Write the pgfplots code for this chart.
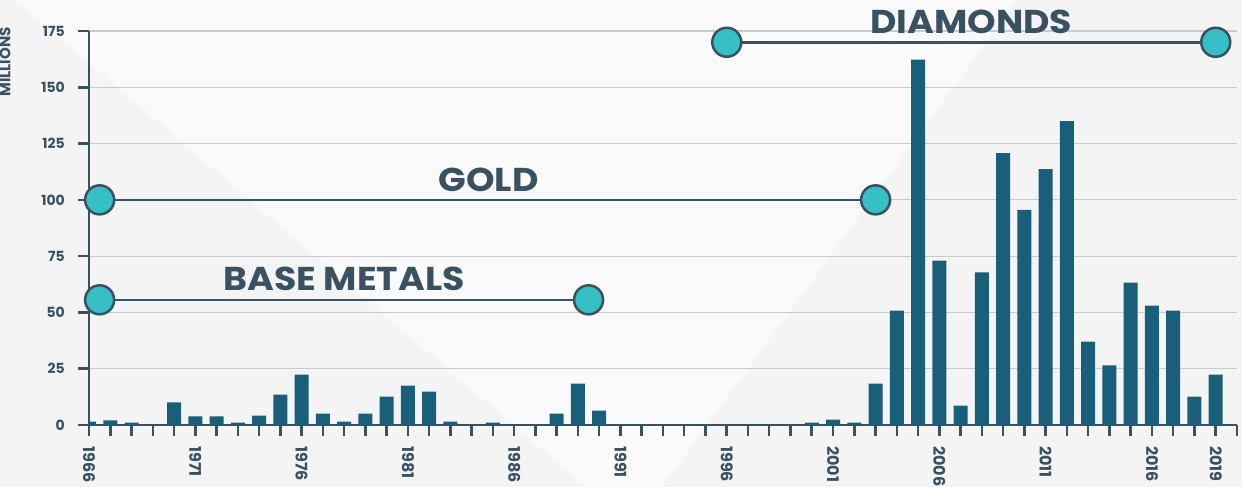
\documentclass[border=0pt]{standalone}
\usepackage{fontspec}
\setmainfont{Poppins}
\usepackage{pgfplots}
\pgfplotsset{compat=1.18}

\definecolor{barblue}{HTML}{1A5F79}
\definecolor{slate}{HTML}{3A5161}
\definecolor{dotfill}{HTML}{36BFC5}
\definecolor{gridgray}{HTML}{C9C9CE}
\definecolor{bggray}{HTML}{F4F4F5}
\definecolor{bglight}{HTML}{FAFAFA}

\newcommand{\bigtag}[1]{\scalebox{1.1}[1]{#1}}

\begin{document}
\begin{tikzpicture}
% background with a lighter diagonal band
\fill[bggray] (-89pt,-62pt) rectangle (1153pt,425pt);
\fill[bglight] (-74pt,425pt) -- (928pt,425pt) -- (573pt,-62pt) -- (497pt,-62pt) -- cycle;

\begin{axis}[
    at={(0pt,0pt)}, anchor=south west,
    scale only axis, width=1148pt, height=394pt,
    xmin=1966, xmax=2020,
    ymin=0, ymax=175,
    axis x line=bottom, axis y line=left,
    axis line style={slate, line width=2.5pt, -},
    clip mode=individual,
    tick align=outside,
    major tick length=11pt, minor tick length=11pt,
    every tick/.style={slate, line width=2.5pt},
    every minor tick/.style={slate, line width=2.5pt},
    xtick={1966,1971,...,2016,2019},
    minor xtick={1966,...,2020},
    ytick={0,25,...,175},
    ymajorgrids=true,
    grid style={gridgray, line width=1.2pt},
    /pgf/number format/assume math mode=true,
    /pgf/number format/1000 sep={},
    xticklabel style={rotate=-90, anchor=west, inner sep=0pt, text=slate,
        font=\fontsize{16}{16}\selectfont\bfseries, xshift=10pt},
    yticklabel style={anchor=east, inner sep=0pt, text=slate,
        font=\fontsize{14}{14}\selectfont\bfseries, xshift=-13pt},
]
\addplot[ybar, bar width=14pt, fill=barblue, draw=none] coordinates {
    (1966,1.5) (1967,2) (1968,1) (1970,10) (1971,3.8) (1972,3.8) (1973,1)
    (1974,4.2) (1975,13.5) (1976,22.4) (1977,5.1) (1978,1.5) (1979,5.1)
    (1980,12.6) (1981,17.5) (1982,14.8) (1983,1.5) (1985,1) (1988,5.1)
    (1989,18.4) (1990,6.4) (2000,1) (2001,2.4) (2002,1) (2003,18.4)
    (2004,50.8) (2005,162.3) (2006,73) (2007,8.6) (2008,67.8) (2009,120.8)
    (2010,95.6) (2011,113.7) (2012,135) (2013,37) (2014,26.5) (2015,63.2)
    (2016,53) (2017,50.8) (2018,12.6) (2019,22.4)
};
% period markers
\addplot[slate, line width=2.5pt, mark=*, mark size=14.5pt,
    mark options={fill=dotfill, draw=slate, line width=2.5pt}]
    coordinates {(1966.5,55.6) (1989.5,55.6)};
\addplot[slate, line width=2.5pt, mark=*, mark size=14.5pt,
    mark options={fill=dotfill, draw=slate, line width=2.5pt}]
    coordinates {(1966.5,100) (2003,100)};
\addplot[slate, line width=2.5pt, mark=*, mark size=14.5pt,
    mark options={fill=dotfill, draw=slate, line width=2.5pt}]
    coordinates {(1996,170) (2019,170)};

\node[inner sep=0pt, text=slate, font=\fontsize{33}{33}\selectfont\bfseries]
    at (axis cs:1978,65.1) {\bigtag{BASE METALS}};
\node[inner sep=0pt, text=slate, font=\fontsize{33}{33}\selectfont\bfseries]
    at (axis cs:1984.8,109) {\bigtag{GOLD}};
\node[inner sep=0pt, text=slate, font=\fontsize{33}{33}\selectfont\bfseries]
    at (axis cs:2007.5,179.2) {\bigtag{DIAMONDS}};
\end{axis}

\node[rotate=90, inner sep=0pt, text=slate, font=\fontsize{15}{15}\selectfont\bfseries]
    at (-84pt,363pt) {MILLIONS};

\pgfresetboundingbox
\path[use as bounding box] (-89pt,-62pt) rectangle (1153pt,425pt);
\end{tikzpicture}
\end{document}
